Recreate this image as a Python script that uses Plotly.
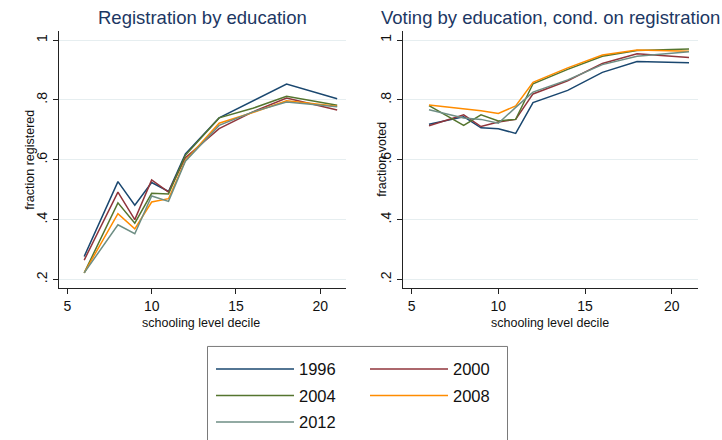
import plotly.graph_objects as go

# ---------------- data ----------------
schooling = [6, 8, 9, 10, 11, 12, 14, 16, 18, 21]
years = ["1996", "2000", "2004", "2008", "2012"]

registered_1996 = [0.277, 0.527, 0.448, 0.524, 0.494, 0.620, 0.740, 0.797, 0.853, 0.804]
registered_2000 = [0.265, 0.492, 0.400, 0.533, 0.492, 0.607, 0.704, 0.760, 0.806, 0.766]
registered_2004 = [0.222, 0.456, 0.388, 0.488, 0.486, 0.615, 0.740, 0.772, 0.812, 0.782]
registered_2008 = [0.222, 0.420, 0.369, 0.459, 0.470, 0.598, 0.722, 0.758, 0.797, 0.779]
registered_2012 = [0.222, 0.383, 0.353, 0.479, 0.461, 0.595, 0.715, 0.760, 0.793, 0.777]

voted_1996 = [0.719, 0.744, 0.707, 0.704, 0.688, 0.791, 0.832, 0.892, 0.928, 0.924]
voted_2000 = [0.714, 0.750, 0.711, 0.726, 0.735, 0.820, 0.864, 0.922, 0.954, 0.942]
voted_2004 = [0.781, 0.715, 0.750, 0.730, 0.735, 0.854, 0.902, 0.946, 0.965, 0.970]
voted_2008 = [0.783, 0.771, 0.764, 0.755, 0.780, 0.859, 0.907, 0.950, 0.967, 0.963]
voted_2012 = [0.767, 0.740, 0.735, 0.722, 0.775, 0.826, 0.867, 0.918, 0.946, 0.961]

x_tickvals = [5, 10, 15, 20]
y_tickvals = [0.2, 0.4, 0.6, 0.8, 1.0]
y_ticktext = [".2", ".4", ".6", ".8", "1"]

left_title = "Registration by education"
right_title = "Voting by education, cond. on registration"
x_title = "schooling level decile"
left_ytitle = "fraction registered"
right_ytitle = "fraction voted"

registered = [registered_1996, registered_2000, registered_2004, registered_2008, registered_2012]
voted = [voted_1996, voted_2000, voted_2004, voted_2008, voted_2012]

# ---------------- style ----------------
colors = ["#1a476f", "#90353b", "#55752f", "#ff8c00", "#6e8e84"]
legend_of = ["legend", "legend2", "legend", "legend2", "legend"]
FONT = "Liberation Sans, Arial, Helvetica, sans-serif"
TITLE_COLOR = "#1c3763"
GRID = "#e6eef0"
W, H = 722, 440


def px(x):
    return x / W


def py(y):
    return 1 - y / H


fig = go.Figure()
for i, yr in enumerate(years):
    fig.add_trace(go.Scatter(
        x=schooling, y=registered[i], mode="lines", name=yr,
        line=dict(color=colors[i], width=1.5),
        legendgroup=yr, legend=legend_of[i], showlegend=True,
        xaxis="x", yaxis="y",
    ))
for i, yr in enumerate(years):
    fig.add_trace(go.Scatter(
        x=schooling, y=voted[i], mode="lines", name=yr,
        line=dict(color=colors[i], width=1.5),
        legendgroup=yr, legend=legend_of[i], showlegend=False,
        xaxis="x2", yaxis="y2",
    ))

xr = [4.5, 21.5]
yr_ = [0.1706, 1.0294]
ydom = [py(295), py(32)]

xaxis_common = dict(
    range=xr, tickvals=x_tickvals, ticks="outside", ticklen=5, tickcolor="#222",
    showline=True, linecolor="#222", linewidth=1, showgrid=False, zeroline=False,
    tickfont=dict(family=FONT, size=14, color="#111"), mirror=False,
)
yaxis_common = dict(
    range=yr_, tickvals=y_tickvals, ticktext=y_ticktext, ticks="outside", ticklen=5,
    tickcolor="#222", showline=True, linecolor="#222", linewidth=1,
    showgrid=True, gridcolor=GRID, gridwidth=1, zeroline=False, tickangle=-90,
    tickfont=dict(family=FONT, size=14, color="#111"), mirror=False,
)

fig.update_layout(
    width=W, height=H,
    margin=dict(l=0, r=0, t=0, b=0),
    paper_bgcolor="white", plot_bgcolor="white",
    font=dict(family=FONT, color="#111"),
    xaxis=dict(domain=[px(58.9), px(345.6)], anchor="y", **xaxis_common),
    yaxis=dict(domain=ydom, anchor="x", **yaxis_common),
    xaxis2=dict(domain=[px(403), px(697.7)], anchor="y2", **xaxis_common),
    yaxis2=dict(domain=ydom, anchor="x2", **yaxis_common),
    legend=dict(
        x=px(211), y=py(360), xanchor="left", yanchor="top",
        orientation="v", bgcolor="rgba(0,0,0,0)", borderwidth=0,
        font=dict(family=FONT, size=16.5, color="#111"),
        itemwidth=78, tracegroupgap=2,
    ),
    legend2=dict(
        x=px(365), y=py(360), xanchor="left", yanchor="top",
        orientation="v", bgcolor="rgba(0,0,0,0)", borderwidth=0,
        font=dict(family=FONT, size=16.5, color="#111"),
        itemwidth=78, tracegroupgap=2,
    ),
    shapes=[dict(
        type="rect", xref="paper", yref="paper",
        x0=px(207.5), x1=px(507.5), y0=py(460), y1=py(354.5),
        line=dict(color="#7a7a7a", width=1), fillcolor="rgba(0,0,0,0)",
    )],
    annotations=[
        dict(text=left_title, x=px(202), y=py(18), xref="paper", yref="paper",
             showarrow=False, xanchor="center", yanchor="middle",
             font=dict(family=FONT, size=18.5, color=TITLE_COLOR)),
        dict(text=right_title, x=px(550), y=py(18), xref="paper", yref="paper",
             showarrow=False, xanchor="center", yanchor="middle",
             font=dict(family=FONT, size=18.5, color=TITLE_COLOR)),
        dict(text=x_title, x=px(201), y=py(331), xref="paper", yref="paper",
             showarrow=False, xanchor="center", yanchor="middle",
             font=dict(family=FONT, size=12.5, color="#111")),
        dict(text=x_title, x=px(550), y=py(331), xref="paper", yref="paper",
             showarrow=False, xanchor="center", yanchor="middle",
             font=dict(family=FONT, size=12.5, color="#111")),
        dict(text=left_ytitle, x=px(30), y=py(163.5), xref="paper", yref="paper",
             showarrow=False, xanchor="center", yanchor="middle", textangle=-90,
             font=dict(family=FONT, size=12.5, color="#111")),
        dict(text=right_ytitle, x=px(382), y=py(163.5), xref="paper", yref="paper",
             showarrow=False, xanchor="center", yanchor="middle", textangle=-90,
             font=dict(family=FONT, size=12.5, color="#111")),
    ],
)

fig.write_html("out.html")
